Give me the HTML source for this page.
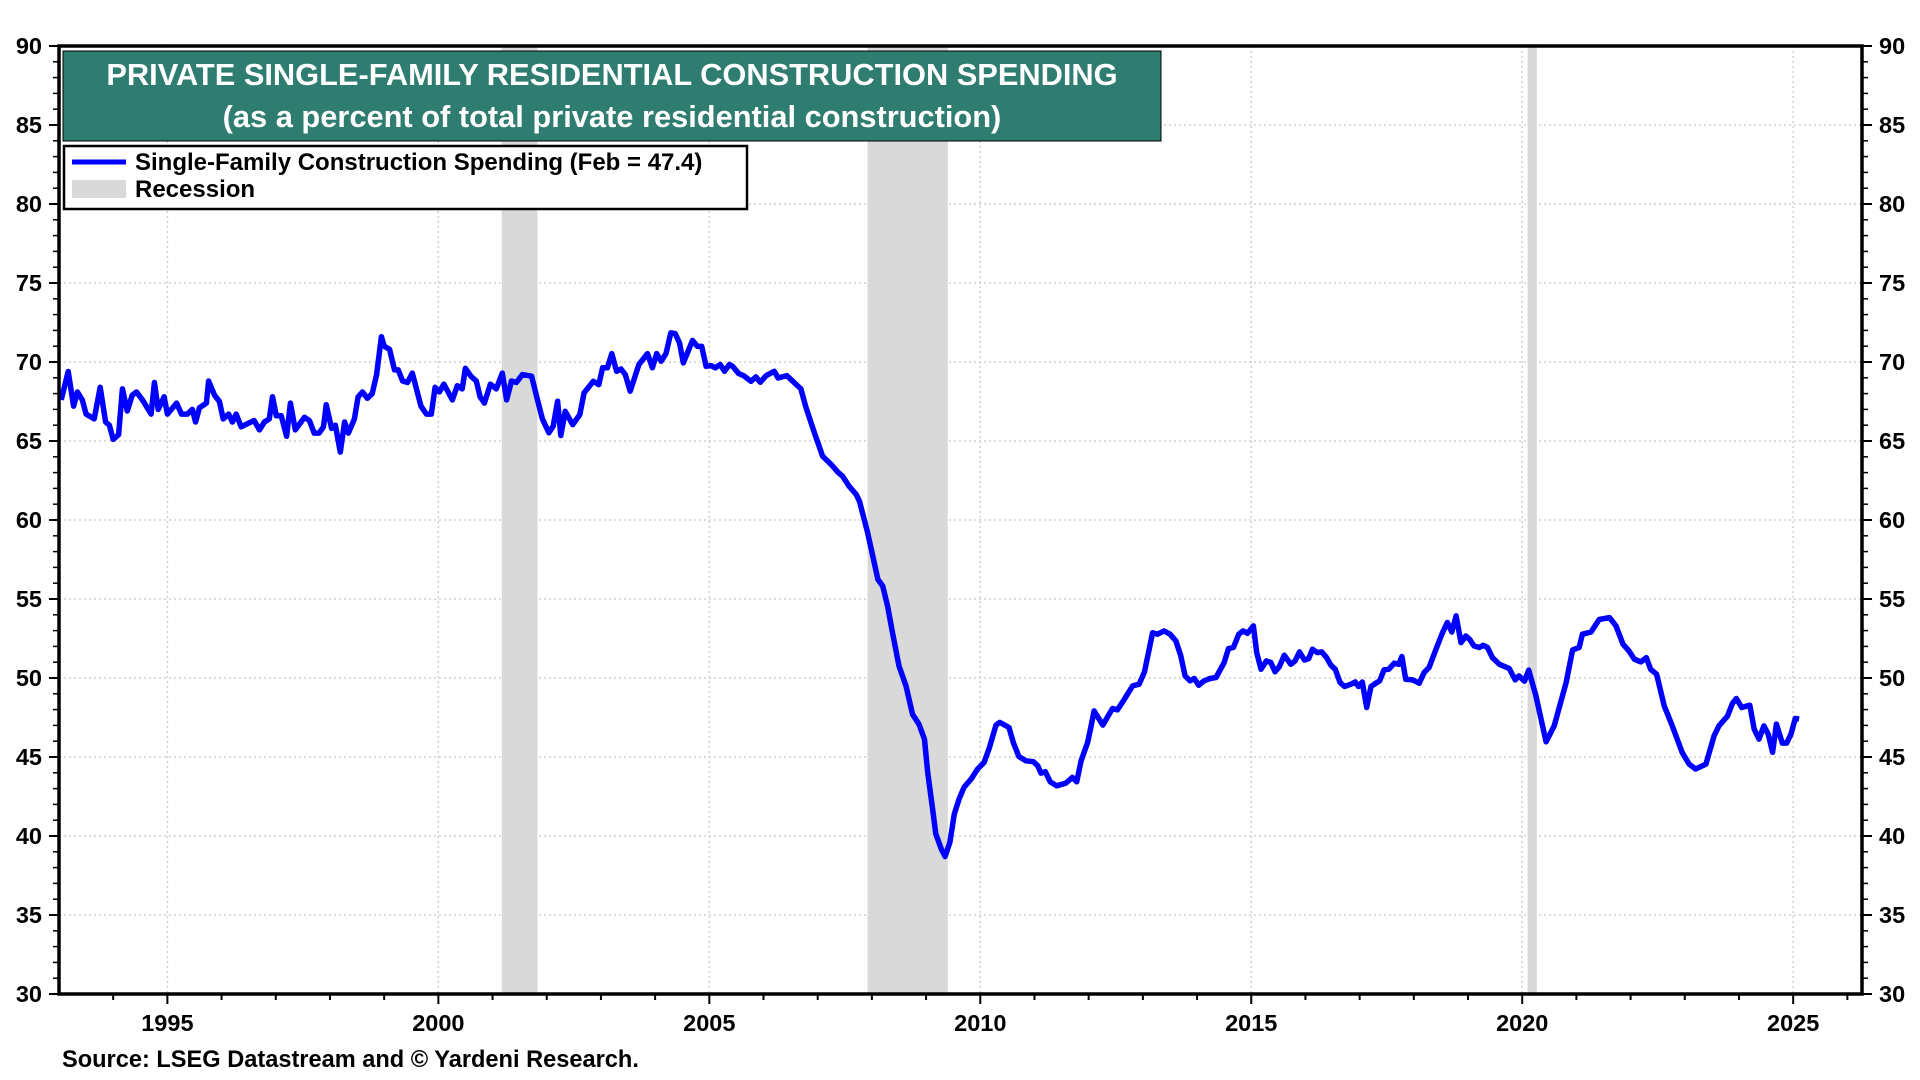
<!DOCTYPE html>
<html><head><meta charset="utf-8"><style>
html,body{margin:0;padding:0;background:#fff;}
svg{display:block;font-family:"Liberation Sans",Arial,sans-serif;font-weight:bold;}
</style></head><body>
<svg id="chart" width="1920" height="1080" viewBox="0 0 1920 1080" xmlns="http://www.w3.org/2000/svg">
<g id="grid"></g>
<g id="rec"></g>
<g id="ticks"></g>
<path id="series" fill="none" stroke="#0000ff" stroke-width="5.5" stroke-linejoin="round"/>
<rect x="59" y="46" width="1803" height="948" fill="none" stroke="#000" stroke-width="3.5"/>
<g>
<rect x="63" y="51" width="1098" height="90" fill="#2f7d70" stroke="#000" stroke-width="1"/>
<text x="612" y="85" text-anchor="middle" fill="#fff" font-size="30.8">PRIVATE SINGLE-FAMILY RESIDENTIAL CONSTRUCTION SPENDING</text>
<text x="612" y="127" text-anchor="middle" fill="#fff" font-size="30.8">(as a percent of total private residential construction)</text>
</g>
<g>
<rect x="64" y="146" width="683" height="63" fill="#fff" stroke="#000" stroke-width="2.5"/>
<line x1="72" y1="162" x2="126" y2="162" stroke="#0000ff" stroke-width="5"/>
<text x="135" y="170" font-size="24">Single-Family Construction Spending (Feb = 47.4)</text>
<rect x="72" y="180" width="54" height="18" fill="#d9d9d9"/>
<text x="135" y="197" font-size="24">Recession</text>
</g>
<text x="62" y="1067" font-size="23.6">Source: LSEG Datastream and © Yardeni Research.</text>
</svg>
<script>
const years = [1993.04,1993.17,1993.27,1993.34,1993.43,1993.5,1993.65,1993.76,1993.86,1993.93,1994.0,1994.1,1994.17,1994.26,1994.35,1994.43,1994.54,1994.7,1994.76,1994.83,1994.94,1995.0,1995.17,1995.26,1995.37,1995.46,1995.52,1995.59,1995.72,1995.76,1995.87,1995.96,1996.03,1996.13,1996.2,1996.27,1996.36,1996.6,1996.7,1996.79,1996.88,1996.94,1997.01,1997.1,1997.2,1997.27,1997.36,1997.53,1997.62,1997.71,1997.8,1997.88,1997.93,1998.03,1998.1,1998.19,1998.27,1998.34,1998.45,1998.52,1998.6,1998.69,1998.78,1998.86,1998.95,1999.0,1999.1,1999.19,1999.26,1999.34,1999.43,1999.52,1999.68,1999.78,1999.87,1999.94,2000.02,2000.1,2000.26,2000.35,2000.44,2000.5,2000.6,2000.7,2000.77,2000.85,2000.96,2001.07,2001.18,2001.26,2001.35,2001.44,2001.55,2001.72,2001.83,2001.92,
2002.04,2002.12,2002.2,2002.26,2002.34,2002.48,2002.61,2002.69,2002.86,2002.96,2003.03,2003.12,2003.2,2003.29,2003.37,2003.45,2003.54,2003.7,2003.86,2003.95,2004.03,2004.11,2004.2,2004.29,2004.37,2004.45,2004.52,2004.69,2004.78,2004.86,2004.94,2005.03,2005.11,2005.2,2005.28,2005.37,2005.43,2005.54,2005.63,2005.77,2005.86,2005.94,2006.05,2006.2,2006.27,2006.43,2006.54,2006.69,2006.78,2006.94,2007.09,2007.25,2007.37,2007.46,2007.58,2007.71,2007.77,2007.92,
2008.11,2008.2,2008.29,2008.38,2008.5,2008.63,2008.75,2008.87,2008.97,2009.03,2009.12,2009.18,2009.28,2009.35,2009.44,2009.52,2009.61,2009.7,2009.83,2009.95,
2010.07,2010.17,2010.29,2010.36,2010.53,2010.61,2010.71,2010.84,2010.98,2011.06,2011.12,2011.2,2011.29,2011.41,2011.58,2011.7,2011.78,2011.86,2011.98,2012.04,2012.1,2012.26,2012.44,2012.53,2012.64,2012.81,2012.93,2013.03,2013.18,2013.27,2013.39,2013.5,2013.61,2013.7,2013.78,2013.87,2013.95,2014.03,2014.13,2014.24,2014.35,2014.5,2014.58,2014.67,2014.77,2014.85,2014.93,2015.04,
2015.1,2015.18,2015.28,2015.36,2015.44,2015.52,2015.61,2015.73,2015.81,2015.89,2015.98,2016.06,2016.13,2016.22,2016.3,2016.39,2016.47,2016.55,2016.64,2016.72,2016.84,2016.92,2016.98,2017.05,2017.13,2017.21,2017.3,2017.37,2017.45,2017.54,2017.64,2017.72,2017.78,2017.85,2017.98,2018.1,2018.19,2018.28,2018.41,2018.53,2018.62,2018.7,2018.78,2018.87,2018.96,2019.03,2019.11,2019.21,2019.28,2019.36,2019.45,2019.58,2019.76,2019.87,
2019.94,2020.04,2020.12,2020.25,2020.44,2020.59,2020.81,2020.93,2021.05,2021.11,2021.27,2021.42,2021.61,2021.73,2021.86,2021.97,2022.07,2022.19,2022.29,2022.37,2022.48,2022.62,2022.77,2022.95,2023.08,2023.2,2023.39,2023.54,2023.63,2023.79,2023.88,2023.95,2024.05,2024.2,2024.28,2024.37,2024.46,2024.54,2024.62,2024.69,2024.8,2024.88,2024.96,2025.04,2025.11];
const values = [67.6,69.4,67.2,68.1,67.6,66.7,66.4,68.4,66.2,66.0,65.1,65.4,68.3,66.9,67.9,68.1,67.6,66.7,68.7,67.0,67.8,66.7,67.4,66.7,66.7,67.0,66.2,67.1,67.4,68.8,67.9,67.5,66.4,66.7,66.2,66.7,65.9,66.3,65.7,66.2,66.4,67.8,66.6,66.6,65.3,67.4,65.7,66.5,66.3,65.5,65.5,65.9,67.3,65.8,66.0,64.3,66.2,65.5,66.4,67.8,68.1,67.7,68.0,69.2,71.6,71.0,70.8,69.5,69.5,68.8,68.7,69.3,67.2,66.7,66.7,68.4,68.1,68.6,67.6,68.5,68.3,69.6,69.1,68.8,67.8,67.4,68.6,68.3,69.3,67.6,68.8,68.7,69.2,69.1,67.6,66.4,
65.52,65.94,67.52,65.35,66.88,66.04,66.67,68.05,68.78,68.57,69.63,69.63,70.53,69.41,69.56,69.2,68.15,69.84,70.53,69.63,70.53,70.05,70.53,71.84,71.8,71.21,69.94,71.37,70.99,70.99,69.73,69.77,69.63,69.84,69.41,69.84,69.73,69.27,69.14,68.78,69.06,68.72,69.14,69.41,68.99,69.14,68.78,68.3,67.16,65.52,64.04,63.51,63.03,62.77,62.14,61.62,61.2,59.2,
56.24,55.82,54.55,52.87,50.76,49.5,47.71,47.07,46.12,44.02,41.71,40.13,39.18,38.7,39.6,41.39,42.34,43.08,43.6,44.24,
44.66,45.61,47.02,47.19,46.87,45.92,45.04,44.76,44.7,44.44,43.98,44.07,43.43,43.18,43.35,43.71,43.43,44.76,45.92,46.87,47.92,47.02,48.07,47.98,48.55,49.5,49.61,50.39,52.87,52.77,52.98,52.77,52.35,51.4,50.13,49.82,49.97,49.54,49.82,49.97,50.03,50.97,51.86,51.93,52.77,52.98,52.83,53.3,
51.61,50.56,51.08,50.98,50.39,50.73,51.44,50.87,51.08,51.65,51.14,51.23,51.82,51.61,51.65,51.29,50.81,50.56,49.71,49.46,49.61,49.75,49.46,49.75,48.13,49.46,49.67,49.82,50.51,50.56,50.94,50.87,51.36,49.92,49.88,49.67,50.34,50.66,51.82,52.87,53.51,52.91,53.93,52.24,52.66,52.45,52.03,51.93,52.07,51.93,51.29,50.87,50.6,49.88,
50.13,49.8,50.5,48.9,45.96,46.97,49.7,51.78,51.93,52.77,52.91,53.7,53.82,53.3,52.14,51.71,51.19,51.02,51.29,50.56,50.24,48.24,46.97,45.3,44.55,44.24,44.55,46.34,46.97,47.6,48.4,48.7,48.13,48.28,46.76,46.13,46.97,46.45,45.3,47.08,45.88,45.88,46.45,47.44,47.4];
const recStarts = [2001.17, 2007.92, 2020.1];
const recEnds = [2001.83, 2009.4, 2020.27];
const yTicks = [30,35,40,45,50,55,60,65,70,75,80,85,90];
const xTickYears = [1995,2000,2005,2010,2015,2020,2025];

const X0=59, X1=1862, Y0=46, Y1=994, YR0=1993.0, YR1=2026.27, V0=30, V1=90;
const xs = yr => X0 + (yr-YR0)/(YR1-YR0)*(X1-X0);
const ys = v => Y1 - (v-V0)/(V1-V0)*(Y1-Y0);
const NS="http://www.w3.org/2000/svg";
function mk(tag, attrs, parent){const e=document.createElementNS(NS,tag);for(const k in attrs)e.setAttribute(k,attrs[k]);parent.appendChild(e);return e;}
const grid=document.getElementById('grid'), ticks=document.getElementById('ticks'), rec=document.getElementById('rec');

for(let i=0;i<recStarts.length;i++){
  const r=mk('rect',{x:xs(recStarts[i]),y:Y0,width:xs(recEnds[i])-xs(recStarts[i]),height:Y1-Y0,fill:'#d9d9d9'},rec);
  
  
}
yTicks.forEach(v=>{
  if(v>V0&&v<V1){const g=mk('line',{x1:X0,x2:X1,y1:ys(v),y2:ys(v),stroke:'#d0d0d0','stroke-width':1.5,'stroke-dasharray':'2 3'},grid);
  
  }
  const l=mk('text',{x:42,y:ys(v)+8,'text-anchor':'end','font-size':23.5},ticks);l.textContent=v;
  
  
  const r=mk('text',{x:1879,y:ys(v)+8,'font-size':23.5},ticks);r.textContent=v;
  
  
  mk('line',{x1:X0-10,x2:X0,y1:ys(v),y2:ys(v),stroke:'#000','stroke-width':2},ticks);
  mk('line',{x1:X1,x2:X1+10,y1:ys(v),y2:ys(v),stroke:'#000','stroke-width':2},ticks);
});
for(let v=V0+1;v<V1;v++){ if(v%5){
  mk('line',{x1:X0-6,x2:X0,y1:ys(v),y2:ys(v),stroke:'#000','stroke-width':1.5},ticks);
  mk('line',{x1:X1,x2:X1+6,y1:ys(v),y2:ys(v),stroke:'#000','stroke-width':1.5},ticks);
}}
xTickYears.forEach(yr=>{
  const g=mk('line',{x1:xs(yr),x2:xs(yr),y1:Y0,y2:Y1,stroke:'#d0d0d0','stroke-width':1.5,'stroke-dasharray':'2 3'},grid);
  
  
  const t=mk('text',{x:xs(yr),y:1031,'text-anchor':'middle','font-size':23.5},ticks);t.textContent=yr;
  
  
});
for(let yr=1994;yr<=2026;yr++){
  mk('line',{x1:xs(yr),x2:xs(yr),y1:Y1,y2:Y1+(yr%5?6:10),stroke:'#000','stroke-width':2},ticks);
}
let d='';
for(let i=0;i<years.length;i++){d+=(i?'L':'M')+xs(years[i]).toFixed(1)+' '+ys(values[i]).toFixed(1);}
document.getElementById('series').setAttribute('d',d);
</script>
</body></html>
